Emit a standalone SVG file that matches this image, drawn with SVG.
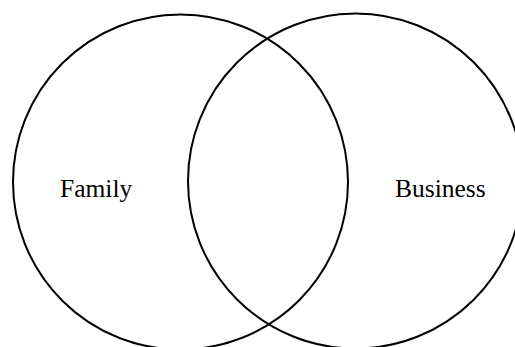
<svg xmlns="http://www.w3.org/2000/svg" width="515" height="347" viewBox="0 0 515 347">
<style>
.c{fill:none;stroke:#000;stroke-width:2}
.t{font-family:"Liberation Serif","Times New Roman",serif;font-size:25.5px;fill:#000}
</style>
<rect width="515" height="347" fill="#fff"/>
<g id="family"><circle class="c" cx="180.5" cy="182" r="167.5"/><text class="t" x="60" y="197">Family</text></g>
<g id="business"><circle class="c" cx="355.5" cy="181" r="167.5"/><text class="t" x="395" y="197">Business</text></g>
<g id="connectors"/>
</svg>
